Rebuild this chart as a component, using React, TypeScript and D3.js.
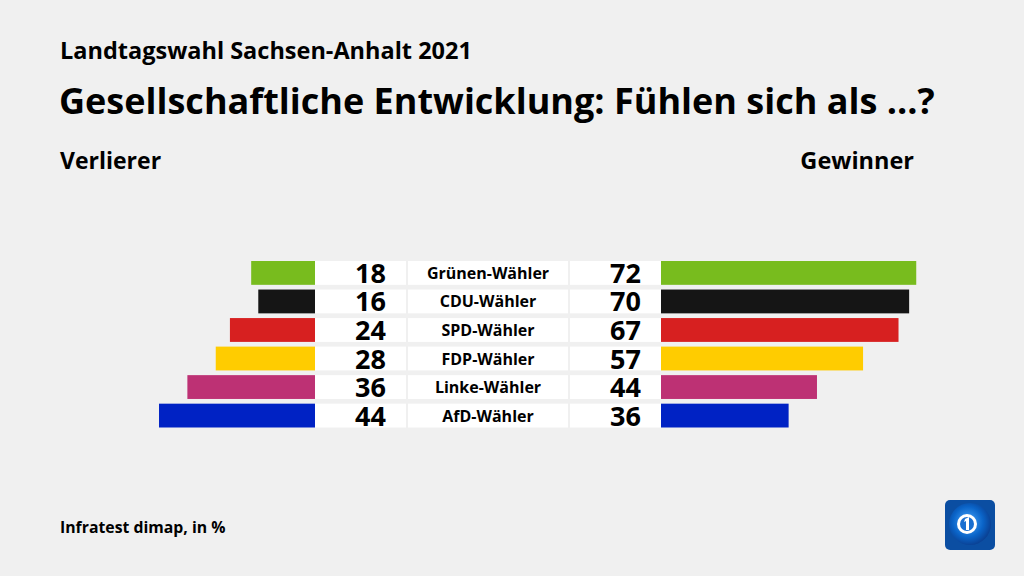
import React from "react";
import * as d3 from "d3";

const categories = ["Grünen-Wähler", "CDU-Wähler", "SPD-Wähler", "FDP-Wähler", "Linke-Wähler", "AfD-Wähler"];
const verlierer = [18, 16, 24, 28, 36, 44];
const gewinner = [72, 70, 67, 57, 44, 36];
const colors = ["#78bc1e", "#151515", "#d72020", "#ffcc00", "#bd3174", "#0022c4"];

const W = 1024, H = 576;
const FONT = "'Open Sans', 'Noto Sans', sans-serif";

export default function App() {
  const y = d3.scaleBand<string>().domain(categories).range([261, 427.5]).paddingInner(0.165).paddingOuter(0);
  const xL = d3.scaleLinear().domain([0, 100]).range([0, 354.5]);
  const leftEdge = 315;
  const rightStart = 661;
  const bh = y.bandwidth();
  return (
    <svg width={W} height={H} style={{ position: "absolute", left: 0, top: 0, background: "#f0f0f0" }} fontFamily={FONT}>
      <rect x={0} y={0} width={W} height={H} fill="#f0f0f0" />
      <text x={60} y={59} fontSize={23.5} fontWeight={700} fill="#000">Landtagswahl Sachsen-Anhalt 2021</text>
      <text x={59} y={114} fontSize={36} fontWeight={700} fill="#000">Gesellschaftliche Entwicklung: Fühlen sich als ...?</text>
      <text x={60} y={169} fontSize={23} fontWeight={700} fill="#000">Verlierer</text>
      <text x={914} y={169} fontSize={23.5} fontWeight={700} fill="#000" textAnchor="end">Gewinner</text>
      {categories.map((c, i) => {
        const yy = y(c)!;
        return (
          <g key={c}>
            <rect x={leftEdge - xL(verlierer[i])} y={yy} width={xL(verlierer[i])} height={bh} fill={colors[i]} />
            <rect x={315} y={yy} width={91} height={bh} fill="#fff" />
            <rect x={408} y={yy} width={160} height={bh} fill="#fff" />
            <rect x={570} y={yy} width={91} height={bh} fill="#fff" />
            <rect x={rightStart} y={yy} width={xL(gewinner[i])} height={bh} fill={colors[i]} />
            <text x={386} y={yy + bh / 2 + 10} fontSize={27} fontWeight={700} textAnchor="end" fill="#000">{verlierer[i]}</text>
            <text x={488} y={yy + bh / 2 + 6} fontSize={16} fontWeight={700} textAnchor="middle" fill="#000">{c}</text>
            <text x={641} y={yy + bh / 2 + 10} fontSize={27} fontWeight={700} textAnchor="end" fill="#000">{gewinner[i]}</text>
          </g>
        );
      })}
      <text x={60} y={533} fontSize={15.8} fontWeight={700} fill="#000">Infratest dimap, in %</text>
      <defs>
        <radialGradient id="globe" cx="0.45" cy="0.45" r="0.6">
          <stop offset="0" stopColor="#4aa8ff" />
          <stop offset="0.6" stopColor="#0a64c8" />
          <stop offset="1" stopColor="#0a3a8a" />
        </radialGradient>
      </defs>
      <rect x={945} y={500} width={50} height={50} rx={5} fill="#0b4ea2" />
      <circle cx={970} cy={524} r={21} fill="url(#globe)" />
      <circle cx={967} cy={524} r={10} fill="#fff" />
      <circle cx={967} cy={524} r={7} fill="#1a6fd0" />
      <path d="M965,519 L969,517 L969,530 L966,530 L966,521 L964,522 Z" fill="#fff" />
    </svg>
  );
}
